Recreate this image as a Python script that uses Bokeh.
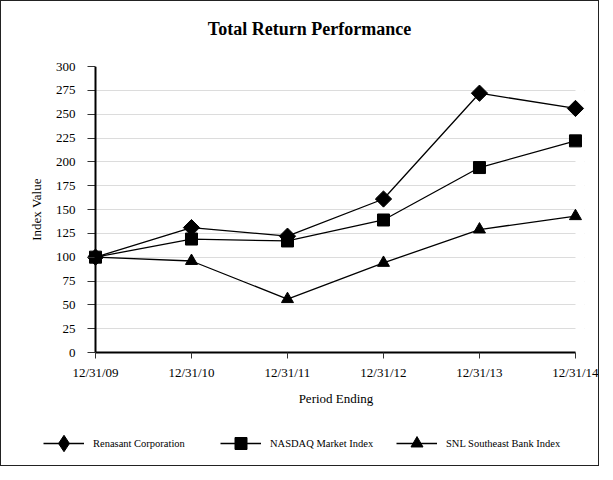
import math
from bokeh.plotting import figure
from bokeh.layouts import column
from bokeh.models import (Range1d, FixedTicker, Legend, LegendItem, Label,
                          BoxAnnotation, Span)
from bokeh.embed import file_html
from bokeh.resources import INLINE

periods = ["12/31/09", "12/31/10", "12/31/11", "12/31/12", "12/31/13", "12/31/14"]
renasant = [100, 131, 122, 161, 272, 256]
nasdaq = [100, 119, 117, 139, 194, 222]
snl = [100, 96, 56, 94, 129, 143]
y_ticks = [0, 25, 50, 75, 100, 125, 150, 175, 200, 225, 250, 275, 300]
series_names = ["Renasant Corporation", "NASDAQ Market Index", "SNL Southeast Bank Index"]
title_text = "Total Return Performance"

xs = list(range(len(periods)))
x_last = xs[-1]
pad_l = 0.0833
pad_r = 0.094
FONT = "Liberation Serif"
W = 597

# (values, chart marker, chart size, chart angle, legend marker, legend glyph height)
specs = [
    (renasant, "square", 11.5, math.pi / 4, "diamond", 42),
    (nasdaq, "square", 12, 0, "square", 30),
    (snl, "triangle", 12, 0, "triangle", 30),
]

# ---------- title strip ----------
pt = figure(width=W, height=45, min_border=0, x_axis_location=None,
            y_axis_location=None, output_backend="svg", toolbar_location=None,
            x_range=Range1d(0, 1), y_range=Range1d(0, 1), frame_align=False)
pt.outline_line_color = None
pt.grid.visible = False
pt.add_layout(Label(x=308, y=18, x_units="screen", y_units="screen",
                    text=title_text, text_align="center",
                    text_baseline="alphabetic", text_font=FONT,
                    text_font_size="18px", text_font_style="bold",
                    text_color="black"))

# ---------- main chart ----------
p = figure(frame_width=497, frame_height=286,
           min_border_left=86, min_border_right=14,
           min_border_top=20, min_border_bottom=59,
           x_range=Range1d(xs[0] - pad_l, x_last + pad_r),
           y_range=Range1d(y_ticks[0], y_ticks[-1]),
           output_backend="svg", toolbar_location=None, frame_align=False)
p.outline_line_color = None
p.background_fill_color = "white"
p.border_fill_color = "white"

p.xgrid.visible = False
p.ygrid.ticker = FixedTicker(ticks=y_ticks)
p.ygrid.grid_line_color = "#dcdcdc"
p.ygrid.grid_line_width = 1
p.add_layout(BoxAnnotation(right=xs[0], fill_color="white", fill_alpha=1.0,
                           line_alpha=0, level="underlay"))
p.add_layout(BoxAnnotation(left=x_last, fill_color="white", fill_alpha=1.0,
                           line_alpha=0, level="underlay"))

ax = p.xaxis[0]
ax.ticker = FixedTicker(ticks=xs)
ax.major_label_overrides = {i: s for i, s in enumerate(periods)}
ax.bounds = (xs[0], x_last)
ax.axis_line_width = 2
ax.axis_line_color = "black"
ax.major_tick_out = 6
ax.major_tick_in = 0
ax.major_tick_line_color = "#333333"
ax.minor_tick_line_color = None
ax.major_label_text_font = FONT
ax.major_label_text_font_size = "13px"
ax.major_label_text_color = "black"
ax.major_label_standoff = 6
ax.axis_label = "Period Ending"
ax.axis_label_text_font = FONT
ax.axis_label_text_font_size = "13px"
ax.axis_label_text_font_style = "normal"
ax.axis_label_text_color = "black"
ax.axis_label_standoff = 8

ay = p.yaxis[0]
ay.ticker = FixedTicker(ticks=y_ticks)
ay.axis_line_color = None
ay.major_tick_out = 0
ay.major_tick_in = 8
ay.major_tick_line_color = "#333333"
ay.minor_tick_line_color = None
ay.major_label_text_font = FONT
ay.major_label_text_font_size = "13px"
ay.major_label_text_color = "black"
ay.major_label_standoff = 12
ay.axis_label = "Index Value"
ay.axis_label_text_font = FONT
ay.axis_label_text_font_size = "13px"
ay.axis_label_text_font_style = "normal"
ay.axis_label_text_color = "black"
ay.axis_label_standoff = 9
p.add_layout(Span(location=xs[0], dimension="height", line_color="black",
                  line_width=2, level="guide"))

for vals, marker, size, ang, _, _ in specs:
    p.line(xs, vals, line_color="black", line_width=1.3)
    p.scatter(xs, vals, marker=marker, size=size, angle=ang,
              fill_color="black", line_color="black")

# ---------- legend strip ----------
LH = 54
pl = figure(width=W, height=LH, min_border=0, x_axis_location=None,
            y_axis_location=None, output_backend="svg", toolbar_location=None,
            x_range=Range1d(0, 1), y_range=Range1d(0, 1), frame_align=False)
pl.outline_line_color = None
pl.grid.visible = False
legend_x = [42, 219, 395]
row_center = 22  # px above the strip's bottom
for (vals, _, _, _, lmarker, gh), name, lx in zip(specs, series_names, legend_x):
    lr = pl.line(xs, vals, line_color="black", line_width=1.3)
    sr = pl.scatter(xs, vals, marker=lmarker, fill_color="black",
                    line_color="black")
    leg = Legend(items=[LegendItem(label=name, renderers=[lr, sr])],
                 location=(lx, row_center - gh / 2), orientation="horizontal",
                 glyph_width=41, glyph_height=gh, label_standoff=9,
                 padding=0, margin=0, spacing=0,
                 border_line_color=None, background_fill_alpha=0,
                 inactive_fill_alpha=0,
                 label_text_font=FONT, label_text_font_size="10.5px",
                 label_text_color="black")
    pl.add_layout(leg, "center")

layout = column(pt, p, pl, spacing=0, styles={"border": "1px solid #222"})

open("out.html", "w").write(file_html(layout, INLINE))
